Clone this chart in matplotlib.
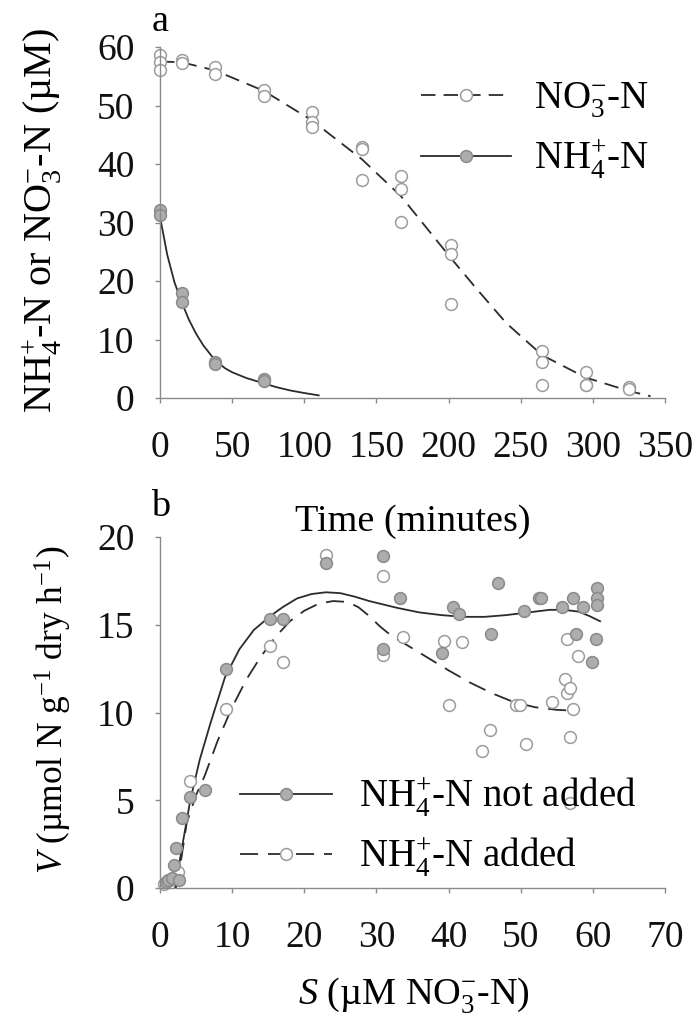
import matplotlib
matplotlib.use("Agg")
import matplotlib.pyplot as plt
from matplotlib.lines import Line2D

plt.rcParams['font.family'] = ['Liberation Serif', 'DejaVu Serif']
plt.rcParams['mathtext.fontset'] = 'custom'
plt.rcParams['mathtext.rm'] = 'Liberation Serif'
plt.rcParams['mathtext.it'] = 'Liberation Serif:italic'
plt.rcParams['mathtext.bf'] = 'Liberation Serif:bold'

# ---------------- Panel a data ----------------
no3_t = [0, 0, 0, 15, 15, 38, 38, 72, 72, 105, 105, 105, 140, 140, 140,
         167, 167, 167, 202, 202, 202, 265, 265, 265, 295, 295, 295, 325, 325]
no3_v = [58.6, 57.4, 56.0, 57.8, 57.2, 56.6, 55.3, 52.7, 51.7, 48.9, 47.2, 46.4,
         42.9, 42.5, 37.3, 37.9, 35.8, 30.1, 26.1, 24.7, 16.1, 8.1, 6.2, 2.2,
         4.4, 2.3, 2.2, 1.9, 1.6]
nh4_t = [0, 0, 15, 15, 38, 38, 72, 72]
nh4_v = [32.1, 31.2, 17.9, 16.4, 6.2, 5.8, 3.3, 2.9]

# fitted curves
no3_fit_t = [0, 15, 38, 72, 105, 140, 167, 185, 202, 220, 240, 265, 295, 325, 340]
no3_fit_v = [57.5, 57.4, 56.0, 52.5, 47.5, 40.8, 34.5, 29.0, 23.8, 18.5, 12.8,
             7.3, 3.5, 1.2, 0.3]
nh4_fit_t = [0, 5, 10, 15, 20, 25, 30, 38, 45, 50, 60, 72, 80, 90, 100, 110]
nh4_fit_v = [31.0, 24.5, 19.8, 16.4, 13.4, 11.0, 9.0, 6.5, 5.1, 4.4, 3.4, 2.5,
             1.9, 1.3, 0.85, 0.45]

a_xticks = [0, 50, 100, 150, 200, 250, 300, 350]
a_yticks = [0, 10, 20, 30, 40, 50, 60]

# ---------------- Panel b data ----------------
notadd_s = [0.8, 1.1, 1.7, 2.0, 2.2, 2.6, 3.1, 4.1, 6.2, 9.1, 15.3, 17.0, 23.0,
            30.9, 30.9, 33.2, 39.1, 40.6, 41.5, 45.9, 46.8, 50.5, 52.5, 52.8,
            55.7, 57.2, 57.6, 58.7, 59.9, 60.6, 60.6, 60.6, 60.4]
notadd_v = [0.33, 0.44, 0.55, 1.3, 2.3, 0.44, 4.0, 5.2, 5.6, 12.5, 15.3, 15.3, 18.5,
            18.9, 13.6, 16.5, 13.4, 16.0, 15.6, 14.5, 17.4, 15.8, 16.5, 16.5,
            16.0, 16.5, 14.5, 16.0, 12.9, 17.1, 16.5, 16.1, 14.2]
added_s = [0.6, 1.4, 2.3, 2.5, 4.1, 9.1, 15.3, 17.0, 23.0, 30.9, 30.9, 33.7,
           39.3, 40.0, 41.9, 44.6, 45.7, 49.3, 49.9, 50.7, 54.4, 56.2, 56.4,
           56.4, 56.9, 56.9, 57.2, 57.9, 56.9]
added_v = [0.2, 0.44, 0.66, 0.9, 6.1, 10.2, 13.8, 12.9, 19.0, 17.8, 13.3, 14.3,
           14.1, 10.4, 14.0, 7.8, 9.0, 10.4, 10.4, 8.2, 10.6, 11.9, 11.1, 14.2,
           8.6, 11.4, 10.2, 13.2, 4.85]

notadd_fit_s = [2.1, 3.0, 4.2, 5.5, 7.0, 9.0, 11.0, 13.0, 15.3, 17.0, 19.0, 21.0,
                23.0, 25.0, 27.0, 29.0, 31.0, 33.0, 36.0, 39.0, 42.0, 45.0, 48.0,
                51.0, 54.0, 56.0, 58.0, 59.5, 61.0]
notadd_fit_v = [0.0, 2.2, 5.0, 7.3, 9.4, 12.0, 13.6, 14.7, 15.5, 16.0, 16.5,
                16.75, 16.85, 16.8, 16.6, 16.35, 16.15, 15.95, 15.7, 15.55,
                15.45, 15.45, 15.55, 15.7, 15.85, 15.85, 15.75, 15.5, 15.2]
added_fit_s = [2.2, 3.0, 3.7, 5.0, 6.2, 8.0, 10.0, 12.0, 14.0, 16.0, 18.0, 20.0,
               22.0, 24.0, 26.0, 27.5, 29.0, 30.5, 32.0, 34.0, 36.0, 38.0, 40.0,
               43.0, 46.0, 49.0, 52.0, 55.0, 57.6]
added_fit_v = [0.0, 1.8, 3.7, 5.3, 6.4, 8.4, 10.3, 11.9, 13.2, 14.3, 15.2, 15.8,
               16.2, 16.35, 16.3, 16.0, 15.5, 14.9, 14.4, 13.9, 13.4, 12.9, 12.4,
               11.7, 11.1, 10.6, 10.3, 10.15, 10.1]

b_xticks = [0, 10, 20, 30, 40, 50, 60, 70]
b_yticks = [0, 5, 10, 15, 20]

# ---------------- styling ----------------
TFS = 27      # tick labels
FS = 27.5     # other horizontal text
LFS = 28      # legend text
SPINE = '#8a8a8a'
LINE = '#2b2b2b'
FILL = '#adadad'
FEDGE = '#8a8a8a'
OEDGE = '#9c9c9c'
MS = 8.5
DASH_A = (0, (8, 4.5))
DASH_B = (0, (10, 5.5))

fig = plt.figure(figsize=(6.96, 10.34), dpi=100)
ax1 = fig.add_axes([160/696, 1-398/1034, 505/696, 351/1034])
ax2 = fig.add_axes([160/696, 1-888/1034, 505/696, 351/1034])

def style(ax):
    for s in ['top', 'right']:
        ax.spines[s].set_visible(False)
    for s in ['left', 'bottom']:
        ax.spines[s].set_color(SPINE)
        ax.spines[s].set_linewidth(1.0)
    ax.tick_params(axis='both', direction='out', length=3.5, width=1.0,
                   color=SPINE, labelsize=TFS, labelcolor='#111111')
    ax.tick_params(axis='y', pad=15)
    ax.tick_params(axis='x', pad=20)

# Panel a
style(ax1)
ax1.plot(no3_fit_t, no3_fit_v, color=LINE, lw=1.3, ls=DASH_A)
ax1.plot(nh4_fit_t, nh4_fit_v, color=LINE, lw=1.3, ls='-')
ax1.plot(no3_t, no3_v, ls='none', marker='o', ms=MS, mfc='white', mec=OEDGE, mew=1.1, clip_on=False)
ax1.plot(nh4_t, nh4_v, ls='none', marker='o', ms=MS, mfc=FILL, mec=FEDGE, mew=1.1, clip_on=False)
ax1.set_xlim(0, 350)
ax1.set_ylim(0, 60)
ax1.set_xticks(a_xticks)
ax1.set_yticks(a_yticks)

h1 = Line2D([], [], color=LINE, lw=1.3, ls=DASH_A, marker='o', ms=MS, mfc='white', mec=OEDGE, mew=1.1)
h2 = Line2D([], [], color=LINE, lw=1.3, ls='-', marker='o', ms=MS, mfc=FILL, mec=FEDGE, mew=1.1)
ax1.legend([h1, h2], [r'NO$_3^{-}$-N', r'NH$_4^{+}$-N'], loc='upper left',
           bbox_to_anchor=(0.448, 1.003), frameon=False, fontsize=LFS,
           handlelength=2.3, handletextpad=0.6, labelspacing=0.45)

# Panel b
style(ax2)
ax2.plot(notadd_fit_s, notadd_fit_v, color=LINE, lw=1.3, ls='-')
ax2.plot(added_fit_s, added_fit_v, color=LINE, lw=1.3, ls=DASH_B)
ax2.plot(added_s, added_v, ls='none', marker='o', ms=MS, mfc='white', mec=OEDGE, mew=1.1, clip_on=False)
ax2.plot(notadd_s, notadd_v, ls='none', marker='o', ms=MS, mfc=FILL, mec=FEDGE, mew=1.1, clip_on=False)
ax2.set_xlim(0, 70)
ax2.set_ylim(0, 20)
ax2.set_xticks(b_xticks)
ax2.set_yticks(b_yticks)

g1 = Line2D([], [], color=LINE, lw=1.3, ls='-', marker='o', ms=MS, mfc=FILL, mec=FEDGE, mew=1.1)
g2 = Line2D([], [], color=LINE, lw=1.3, ls=DASH_B, marker='o', ms=MS, mfc='white', mec=OEDGE, mew=1.1)
ax2.legend([g1, g2], [r'NH$_4^{+}$-N not added', r'NH$_4^{+}$-N added'], loc='upper left',
           bbox_to_anchor=(0.09, 0.418), frameon=False, fontsize=LFS,
           handlelength=2.35, handletextpad=0.7, labelspacing=0.42)

# labels
fig.text(160/696, 1-22/1034, 'a', fontsize=FS, ha='center', va='center')
fig.text(161/696, 1-507/1034, 'b', fontsize=FS, ha='center', va='center')
fig.text(413/696, 1-522/1034, 'Time (minutes)', fontsize=FS, ha='center', va='center')
fig.text(414/696, 1-995/1034, r'$S$ (µM NO$_3^{-}$-N)', fontsize=FS, ha='center', va='center')
fig.text(42/696, 1-220/1034, r'NH$_4^{+}$-N or NO$_3^{-}$-N (µM)', fontsize=29,
         ha='center', va='center', rotation=90)
fig.text(53/696, 1-710/1034, r'$V$ (µmol N g$^{-1}$ dry h$^{-1}$)', fontsize=25.5,
         ha='center', va='center', rotation=90)

fig.savefig('out.png', dpi=100, facecolor='white')
